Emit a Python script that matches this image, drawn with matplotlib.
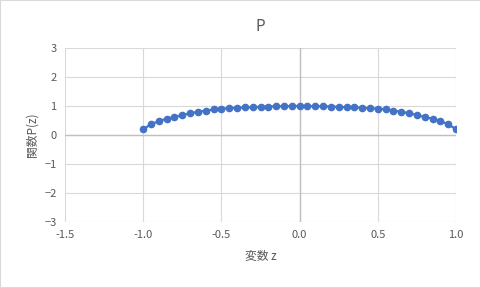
import matplotlib.pyplot as plt
import numpy as np

plt.rcParams['font.family'] = ['Noto Sans CJK JP', 'DejaVu Sans']

# 変数 z と 関数 P(z)
z = [-1.0, -0.95, -0.9, -0.85, -0.8, -0.75, -0.7, -0.65, -0.6, -0.55, -0.5,
     -0.45, -0.4, -0.35, -0.3, -0.25, -0.2, -0.15, -0.1, -0.05, 0.0,
     0.05, 0.1, 0.15, 0.2, 0.25, 0.3, 0.35, 0.4, 0.45, 0.5,
     0.55, 0.6, 0.65, 0.7, 0.75, 0.8, 0.85, 0.9, 0.95, 1.0]
p = [0.20, 0.37, 0.48, 0.56, 0.62, 0.69, 0.75, 0.80, 0.84, 0.88, 0.91,
     0.92, 0.94, 0.95, 0.96, 0.97, 0.98, 0.99, 0.99, 1.00, 1.00,
     1.00, 0.99, 0.99, 0.98, 0.97, 0.96, 0.95, 0.94, 0.92, 0.91,
     0.88, 0.84, 0.80, 0.75, 0.69, 0.62, 0.56, 0.48, 0.37, 0.20]

xticks = [-1.5, -1.0, -0.5, 0.0, 0.5, 1.0]
xticklabels = ['-1.5', '-1.0', '-0.5', '0.0', '0.5', '1.0']
yticks = [-3, -2, -1, 0, 1, 2, 3]

txt = '#595959'
grid = '#d9d9d9'

fig = plt.figure(figsize=(4.81, 2.88), dpi=100)
ax = fig.add_axes([65 / 481, 66 / 288, 391 / 481, 174 / 288])

ax.plot(z, p, '-', color='#4472C4', lw=1.6, marker='o', ms=4.5, zorder=3)

ax.set_xlim(-1.5, 1.0)
ax.set_ylim(-3, 3)
ax.set_xticks(xticks)
ax.set_xticklabels(xticklabels)
ax.set_yticks(yticks)
ax.grid(True, color=grid, lw=0.8)
ax.axhline(0, color='#bfbfbf', lw=1.0, zorder=2)
ax.axvline(0, color='#bfbfbf', lw=1.0, zorder=2)
for s in ax.spines.values():
    s.set_visible(False)
ax.tick_params(length=0, colors=txt, labelsize=8, pad=6)

ax.set_title('P', color=txt, fontsize=11, pad=12)
ax.set_xlabel('変数 z', color=txt, fontsize=8.5, labelpad=6)
ax.set_ylabel('関数P(z)', color=txt, fontsize=8.5, labelpad=4)

# 外枠
fig.patches.append(plt.Rectangle((0, 0), 1, 1, transform=fig.transFigure,
                                 fill=False, edgecolor='#d9d9d9', lw=1.5))

fig.savefig('out.png', dpi=100)
